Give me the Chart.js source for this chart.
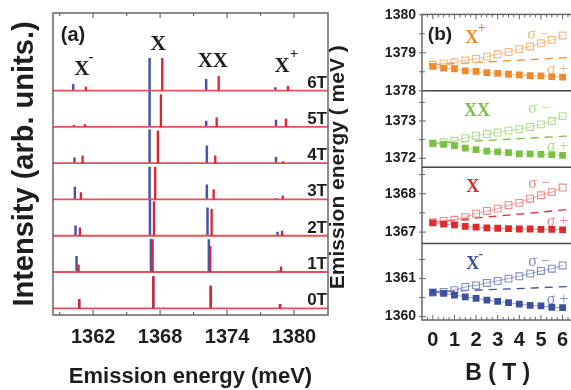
<!DOCTYPE html>
<html><head><meta charset="utf-8">
<script src="https://cdn.jsdelivr.net/npm/chart.js@4.4.0/dist/chart.umd.min.js"></script>
<style>
html,body{margin:0;padding:0;background:#fff;overflow:hidden;width:571px;height:390px;position:relative;}
#ca{position:absolute;left:0;top:0;}
#cb{position:absolute;left:322px;top:0;}
</style></head><body>
<canvas id="ca" width="335" height="390"></canvas>
<canvas id="cb" width="262" height="390"></canvas>
<script>
// ================= Panel (a) data =================
const fieldLabels = ['0T','1T','2T','3T','4T','5T','6T'];
// peak energies (meV), rows 0T..6T, columns X-, X, XX, X+
const blueE = [
 [1360.75,1367.39,1372.54,1378.75],
 [1360.51,1367.18,1372.37,1378.60],
 [1360.42,1367.09,1372.25,1378.52],
 [1360.36,1367.06,1372.19,1378.45],
 [1360.33,1367.06,1372.19,1378.39],
 [1360.27,1367.06,1372.13,1378.39],
 [1360.21,1367.06,1372.13,1378.33]];
const blueH = [
 [0.25,0.88,0.62,0.12],
 [0.44,0.92,0.90,0.05],
 [0.28,1.00,0.78,0.11],
 [0.35,0.90,0.41,0.03],
 [0.16,0.93,0.49,0.17],
 [0.05,1.00,0.17,0.20],
 [0.18,0.90,0.32,0.09]];
const redE = [
 [1360.75,1367.39,1372.54,1378.75],
 [1360.69,1367.33,1372.49,1378.84],
 [1360.81,1367.45,1372.62,1378.93],
 [1360.90,1367.56,1372.80,1378.99],
 [1361.05,1367.80,1372.94,1379.04],
 [1361.26,1368.07,1373.07,1379.28],
 [1361.35,1368.19,1373.25,1379.46]];
const redH = [
 [0.25,0.88,0.62,0.12],
 [0.21,0.90,0.72,0.15],
 [0.23,0.95,0.74,0.14],
 [0.20,0.90,0.28,0.11],
 [0.21,0.90,0.21,0.05],
 [0.07,0.90,0.26,0.23],
 [0.11,0.90,0.40,0.13]];
const xRangeA = [1358.4, 1383.05];
const yRangeA = [-0.185, 8.14];
const majorTicksA = [1362, 1368, 1374, 1380];
const minorTicksA = [1359, 1365, 1371, 1377];
const peakLabelText = ['X','X','XX','X'];
const peakLabelSup  = ['-','','','+'];
const peakLabelE    = [1360.99, 1367.82, 1372.73, 1378.93];
const peakLabelLvl  = [6.58, 7.28, 6.80, 6.67];

// ================= Panel (b) data =================
const fieldB = [0,0.5,1,1.5,2,2.5,3,3.5,4,4.5,5,5.5,6];
const xpPlus  = [1378.64,1378.595,1378.58,1378.525,1378.51,1378.48,1378.46,1378.435,1378.42,1378.40,1378.395,1378.375,1378.36];
const xpMinus = [1378.685,1378.72,1378.75,1378.80,1378.84,1378.90,1378.96,1379.02,1379.095,1379.165,1379.25,1379.34,1379.455];
const xxPlus  = [1372.40,1372.37,1372.34,1372.27,1372.23,1372.19,1372.17,1372.15,1372.12,1372.12,1372.105,1372.10,1372.08];
const xxMinus = [1372.40,1372.43,1372.47,1372.54,1372.605,1372.65,1372.69,1372.74,1372.78,1372.84,1372.91,1373.00,1373.13];
const x0Plus  = [1367.24,1367.21,1367.19,1367.15,1367.13,1367.11,1367.10,1367.09,1367.08,1367.08,1367.07,1367.07,1367.06];
const x0Minus = [1367.26,1367.29,1367.32,1367.39,1367.48,1367.55,1367.61,1367.70,1367.76,1367.87,1367.96,1368.04,1368.16];
const xmPlus  = [1360.635,1360.61,1360.565,1360.52,1360.48,1360.435,1360.40,1360.365,1360.33,1360.295,1360.28,1360.245,1360.235];
const xmMinus = [1360.635,1360.65,1360.695,1360.78,1360.82,1360.885,1360.94,1361.00,1361.06,1361.13,1361.20,1361.26,1361.345];
const meanB   = [0, 6.3];
const xpMean  = [1378.685, 1378.875];
const xxMean  = [1372.40, 1372.60];
const x0Mean  = [1367.26, 1367.59];
const xmMean  = [1360.65, 1360.79];
const yRangeXp = [1378.0, 1380.01];
const yRangeXX = [1371.76, 1373.81];
const yRangeX0 = [1366.70, 1368.69];
const yRangeXm = [1359.91, 1361.92];
const yTicksXp = [1378, 1379, 1380];
const yTicksXX = [1372, 1373];
const yTicksX0 = [1367, 1368];
const yTicksXm = [1360, 1361];
const yMinorXp = [1378.5, 1379.5];
const yMinorXX = [1372.5, 1373.5];
const yMinorX0 = [1367.5, 1368.5];
const yMinorXm = [1360.5, 1361.5];
const xRangeB = [-0.5, 6.5];
const majorTicksB = [0,1,2,3,4,5,6];
const minorTicksB = [-0.25,0.25,0.5,0.75,1.25,1.5,1.75,2.25,2.5,2.75,3.25,3.5,3.75,4.25,4.5,4.75,5.25,5.5,5.75,6.25];

Chart.defaults.font.family = '"Liberation Sans", Arial, Helvetica, sans-serif';
Chart.defaults.color = '#1e1e1e';
Chart.defaults.animation = false;

// ---------------- Panel (a) ----------------
function spikes(E, H) {
  const d = [];
  E.forEach((row, k) => row.forEach((e, i) => {
    d.push({x: e, y: k}, {x: e, y: k + H[k][i]}, {x: e, y: null});
  }));
  return d;
}
function baselines() {
  const d = [];
  fieldLabels.forEach((f, k) => { d.push({x: xRangeA[0], y: k}, {x: xRangeA[1], y: k}, {x: xRangeA[1], y: null}); });
  return d;
}
const SERIF = '"Liberation Serif", "Times New Roman", serif';
const SANS = '"Liberation Sans", Arial, sans-serif';

const frameA = {
  id: 'frameA',
  afterDatasetsDraw(chart) {
    const {ctx, chartArea: a, scales: {x, y}} = chart;
    ctx.save();
    ctx.lineWidth = 1.5;
    ctx.strokeStyle = '#666';
    ctx.strokeRect(a.left, a.top, a.right - a.left, a.bottom - a.top);
    ctx.lineWidth = 1.2;
    const tick = (v, len) => {
      const px = x.getPixelForValue(v);
      ctx.beginPath();
      ctx.moveTo(px, a.bottom); ctx.lineTo(px, a.bottom - len);
      ctx.moveTo(px, a.top); ctx.lineTo(px, a.top + len);
      ctx.stroke();
    };
    majorTicksA.forEach(v => tick(v, 5));
    minorTicksA.forEach(v => tick(v, 3));
    ctx.fillStyle = '#1e1e1e';
    ctx.font = 'bold 17px ' + SANS;
    ctx.textAlign = 'right'; ctx.textBaseline = 'alphabetic';
    fieldLabels.forEach((t, k) => ctx.fillText(t, a.right - 1, y.getPixelForValue(k) - 3));
    ctx.textAlign = 'center'; ctx.textBaseline = 'middle';
    ctx.font = 'bold 20px ' + SANS;
    ctx.fillText('(a)', a.left + 20, a.top + 22);
    peakLabelText.forEach((t, i) => {
      const px = x.getPixelForValue(peakLabelE[i]), py = y.getPixelForValue(peakLabelLvl[i]);
      ctx.font = 'bold ' + (i === 1 ? 22 : 21) + 'px ' + SERIF;
      ctx.textAlign = 'center'; ctx.textBaseline = 'middle';
      ctx.fillText(t, px, py);
      if (peakLabelSup[i]) {
        ctx.font = 'bold 15px ' + SERIF;
        ctx.fillText(peakLabelSup[i], px + (peakLabelSup[i] === '+' ? 12 : 9), py - 12);
      }
    });
    ctx.restore();
  }
};

new Chart(document.getElementById('ca'), {
  type: 'line',
  data: {datasets: [
    {label: 'σ− spectra', data: spikes(redE, redH), borderColor: '#e3222c', borderWidth: 2.3, pointRadius: 0, spanGaps: false},
    {label: 'baselines', data: baselines(), borderColor: '#e6505c', borderWidth: 1.8, pointRadius: 0, spanGaps: false},
    {label: 'σ+ spectra', data: spikes(blueE, blueH), borderColor: '#4656ad', borderWidth: 2.5, pointRadius: 0, spanGaps: false}
  ]},
  options: {
    responsive: false, animation: false, events: [],
    layout: {padding: {left: 0, right: 7, top: 13, bottom: 0}},
    plugins: {legend: {display: false}, tooltip: {enabled: false}},
    scales: {
      x: {type: 'linear', min: xRangeA[0], max: xRangeA[1],
          afterBuildTicks: s => { s.ticks = majorTicksA.map(v => ({value: v})); },
          ticks: {font: {size: 20, weight: 'bold'}, padding: 10, autoSkip: false, maxRotation: 0, callback: v => String(v)},
          grid: {display: false, drawTicks: false}, border: {display: false},
          title: {display: true, text: 'Emission energy (meV)', font: {size: 22, weight: 'bold'}, padding: {top: 0, bottom: 0}},
          afterFit: s => { s.height = 75; }},
      y: {type: 'linear', min: yRangeA[0], max: yRangeA[1],
          ticks: {display: false}, grid: {display: false, drawTicks: false}, border: {display: false},
          title: {display: true, text: 'Intensity (arb. units.)', font: {size: 29, weight: 'bold'}, padding: {top: 8, bottom: 0}},
          afterFit: s => { s.width = 53; }}
    }
  },
  plugins: [frameA]
});

// ---------------- Panel (b) ----------------
const speciesB = [
  {id: 'yXm', name: 'X', sup: '-', color: '#3d4f9f', light: '#7f8cc4', plus: xmPlus, minus: xmMinus, mean: xmMean, range: yRangeXm, ticks: yTicksXm, minor: yMinorXm,
   lab: [1.85, 1361.37], sm: [4.6, 1361.45], sp: [5.45, 1360.43]},
  {id: 'yX0', name: 'X', sup: '', color: '#dd2a2e', light: '#ec8a8c', plus: x0Plus, minus: x0Minus, mean: x0Mean, range: yRangeX0, ticks: yTicksX0, minor: yMinorX0,
   lab: [1.85, 1368.17], sm: [4.6, 1368.27], sp: [5.45, 1367.28]},
  {id: 'yXX', name: 'XX', sup: '', color: '#7cbf45', light: '#b3db92', plus: xxPlus, minus: xxMinus, mean: xxMean, range: yRangeXX, ticks: yTicksXX, minor: yMinorXX,
   lab: [2.04, 1373.26], sm: [4.6, 1373.32], sp: [5.45, 1372.32]},
  {id: 'yXp', name: 'X', sup: '+', color: '#ef8a2a', light: '#f5b87c', plus: xpPlus, minus: xpMinus, mean: xpMean, range: yRangeXp, ticks: yTicksXp, minor: yMinorXp,
   lab: [1.8, 1379.38], sm: [4.55, 1379.48], sp: [5.45, 1378.56]}
];

const dsB = [];
speciesB.forEach(s => {
  dsB.push({label: s.name + s.sup + ' σ+', yAxisID: s.id, data: fieldB.map((b, i) => ({x: b, y: s.plus[i]})),
    borderColor: s.light, borderWidth: 0.8, pointStyle: 'rect', pointRadius: 4.8,
    pointBackgroundColor: s.color, pointBorderColor: s.color, pointBorderWidth: 0});
  dsB.push({label: s.name + s.sup + ' σ−', yAxisID: s.id, data: fieldB.map((b, i) => ({x: b, y: s.minus[i]})),
    borderColor: s.light, borderWidth: 0.8, pointStyle: 'rect', pointRadius: 4.8,
    pointBackgroundColor: 'rgba(255,255,255,0)', pointBorderColor: s.light, pointBorderWidth: 1.1});
  dsB.push({label: s.name + s.sup + ' mean', yAxisID: s.id, data: meanB.map((b, i) => ({x: b, y: s.mean[i]})),
    borderColor: s.color, borderWidth: 1.3, borderDash: [8, 6], pointRadius: 0});
});

const scalesB = {
  x: {type: 'linear', min: xRangeB[0], max: xRangeB[1],
      afterBuildTicks: s => { s.ticks = majorTicksB.map(v => ({value: v})); },
      ticks: {font: {size: 20, weight: 'bold'}, padding: 8, autoSkip: false, maxRotation: 0, callback: v => String(v)},
      grid: {display: false, drawTicks: false}, border: {display: false},
      title: {display: true, text: 'B ( T )', font: {size: 23, weight: 'bold'}, padding: {top: 0, bottom: 3}},
      afterFit: s => { s.height = 70; }},
  yt: {type: 'linear', position: 'left', weight: 10, display: true,
      ticks: {display: false}, grid: {display: false, drawTicks: false}, border: {display: false},
      title: {display: true, text: 'Emission energy ( meV )', font: {size: 21, weight: 'bold'}, padding: {top: 4, bottom: 0}},
      afterFit: s => { s.width = 40; }}
};
speciesB.forEach(s => {
  scalesB[s.id] = {type: 'linear', position: 'left', stack: 'panels', stackWeight: 1, weight: 0,
    min: s.range[0], max: s.range[1],
    afterBuildTicks: sc => { sc.ticks = s.ticks.map(v => ({value: v})); },
    ticks: {font: {size: 14, weight: 'bold'}, padding: 6, autoSkip: false, callback: v => String(v)},
    grid: {display: false, drawTicks: false}, border: {display: false},
    afterFit: sc => { sc.width = 60; }};
});

const frameB = {
  id: 'frameB',
  afterDatasetsDraw(chart) {
    const {ctx, chartArea: a, scales} = chart;
    const x = scales.x;
    ctx.save();
    ctx.strokeStyle = '#666'; ctx.lineWidth = 1.5;
    ctx.strokeRect(a.left, a.top, a.right - a.left, a.bottom - a.top);
    ctx.strokeStyle = '#444';
    speciesB.forEach(s => {
      const sc = scales[s.id];
      if (sc.bottom < a.bottom - 2) {
        ctx.beginPath(); ctx.moveTo(a.left, sc.bottom); ctx.lineTo(a.right, sc.bottom); ctx.stroke();
      }
    });
    ctx.lineWidth = 1;
    ctx.strokeStyle = '#666';
    speciesB.forEach(s => {
      const sc = scales[s.id];
      const yt = (v, len) => { const py = sc.getPixelForValue(v); ctx.beginPath(); ctx.moveTo(a.left, py); ctx.lineTo(a.left + len, py); ctx.moveTo(a.left, py); ctx.lineTo(a.left - 3, py); ctx.stroke(); };
      s.ticks.forEach(v => yt(v, 4));
      s.minor.forEach(v => yt(v, 3));
    });
    const xt = (v, len) => { const px = x.getPixelForValue(v); ctx.beginPath(); ctx.moveTo(px, a.bottom); ctx.lineTo(px, a.bottom - len); ctx.moveTo(px, a.top); ctx.lineTo(px, a.top + len); ctx.stroke(); };
    majorTicksB.forEach(v => xt(v, 5));
    minorTicksB.forEach(v => xt(v, 3));
    ctx.fillStyle = '#1e1e1e';
    ctx.font = 'bold 19px ' + SANS;
    ctx.textAlign = 'center'; ctx.textBaseline = 'middle';
    ctx.fillText('(b)', a.left + 18, a.top + 20);
    speciesB.forEach(s => {
      const sc = scales[s.id];
      ctx.fillStyle = s.color;
      ctx.font = 'bold 18px ' + SERIF;
      ctx.textAlign = 'center'; ctx.textBaseline = 'middle';
      const px = x.getPixelForValue(s.lab[0]), py = sc.getPixelForValue(s.lab[1]);
      ctx.fillText(s.name, px, py);
      if (s.sup) { ctx.font = 'bold 14px ' + SERIF; ctx.fillText(s.sup, px + (s.sup === '+' ? 10 : 8), py - 10); }
      ctx.fillStyle = s.light;
      ctx.font = '16px ' + SERIF;
      ctx.textAlign = 'left';
      ctx.fillText('σ −', x.getPixelForValue(s.sm[0]) - 4, sc.getPixelForValue(s.sm[1]));
      ctx.fillText('σ +', x.getPixelForValue(s.sp[0]) - 4, sc.getPixelForValue(s.sp[1]));
    });
    ctx.restore();
  }
};

new Chart(document.getElementById('cb'), {
  type: 'line',
  data: {datasets: dsB},
  options: {
    responsive: false, animation: false, events: [],
    layout: {padding: {left: 0, right: 10.6, top: 13, bottom: 0}},
    plugins: {legend: {display: false}, tooltip: {enabled: false}},
    scales: scalesB
  },
  plugins: [frameB]
});
</script>
</body></html>
